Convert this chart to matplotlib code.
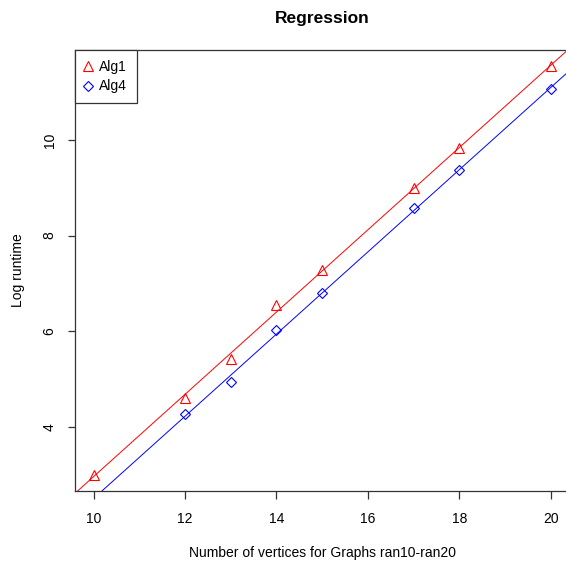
import numpy as np
import matplotlib
matplotlib.use('Agg')
import matplotlib.pyplot as plt

plt.rcParams['font.family'] = ['Liberation Sans', 'DejaVu Sans']

# data
alg1_x = [10, 12, 13, 14, 15, 17, 18, 20]
alg1_y = [3.00, 4.61, 5.41, 6.54, 7.29, 9.00, 9.83, 11.55]
alg4_x = [12, 13, 14, 15, 17, 18, 20]
alg4_y = [4.26, 4.94, 6.02, 6.80, 8.58, 9.37, 11.07]
x_ticks = [10, 12, 14, 16, 18, 20]
y_ticks = [4, 6, 8, 10]

fig = plt.figure(figsize=(5.66, 5.61), dpi=100)
ax = fig.add_axes([0.1329, 0.125, 0.8728, 0.7866])

# R style axis limits: data range plus 4%
def pad(vals):
    lo, hi = min(vals), max(vals)
    d = (hi - lo) * 0.04
    return lo - d, hi + d

ax.set_xlim(pad(alg1_x))
ax.set_ylim(pad(alg1_y))

ax.plot(alg1_x, alg1_y, linestyle='none', marker='^', ms=6.8, mfc='none',
        mec='red', mew=0.8, label='Alg1')
ax.plot(alg4_x, alg4_y, linestyle='none', marker='D', ms=5.0, mfc='none',
        mec='blue', mew=0.8, label='Alg4')

# regression lines (abline of lm)
b1, a1 = np.polyfit(alg1_x, alg1_y, 1)
b4, a4 = np.polyfit(alg4_x, alg4_y, 1)
ax.axline((0, a1), slope=b1, color='red', lw=0.7)
ax.axline((0, a4), slope=b4, color='blue', lw=0.7)

for s in ax.spines.values():
    s.set_color('#333333')
    s.set_linewidth(0.9)

ax.set_xticks(x_ticks)
ax.set_yticks(y_ticks)
ax.tick_params(axis='both', direction='out', length=5.4, width=0.9,
               color='#333333', labelsize=10, pad=9.5)
ax.tick_params(axis='y', pad=8)
plt.setp(ax.get_yticklabels(), rotation=90, va='center')

ax.set_xlabel('Number of vertices for Graphs ran10-ran20', fontsize=10, labelpad=15)
ax.set_ylabel('Log runtime', fontsize=10, labelpad=13)
fig.text(0.5693, 0.9595, 'Regression', ha='center', va='baseline',
         fontsize=12.5, fontweight='bold')

leg = ax.legend(loc='upper left', borderaxespad=0, fancybox=False,
                framealpha=1, edgecolor='#333333', fontsize=10,
                handlelength=0.4, handletextpad=0.6, labelspacing=0.42,
                borderpad=0.72)
leg.get_frame().set_linewidth(0.9)

fig.savefig('out.png', dpi=100)
